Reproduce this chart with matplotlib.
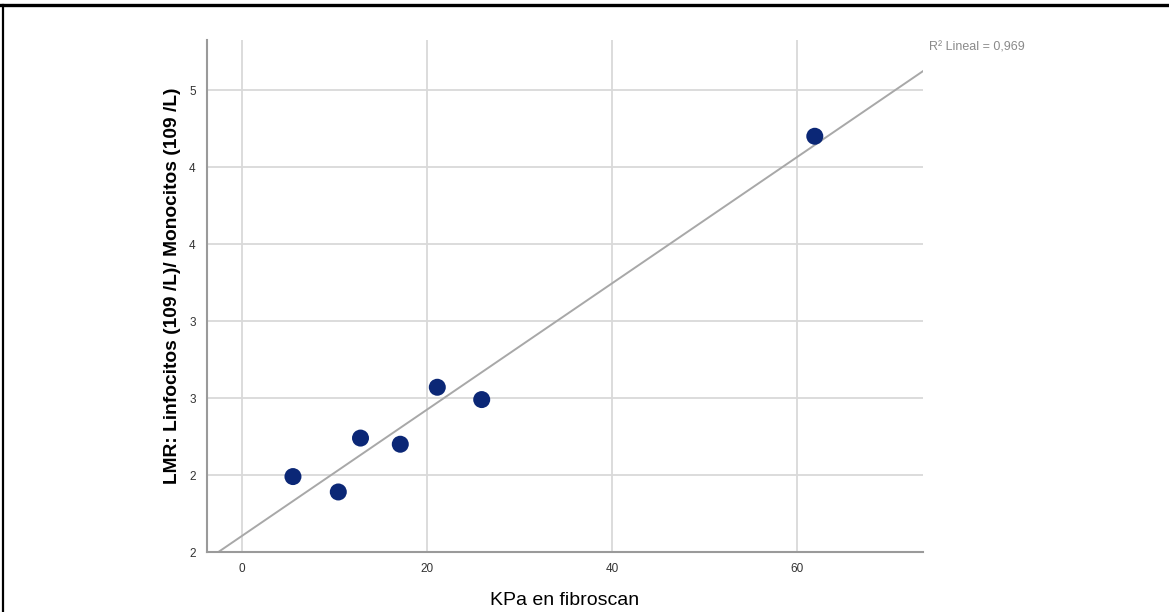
import numpy as np
import matplotlib.pyplot as plt
from matplotlib.lines import Line2D

# KPa (fibroscan) vs LMR
kpa = [5.5, 10.4, 12.8, 17.1, 21.1, 25.9, 61.9]
lmr = [2.49, 2.39, 2.74, 2.70, 3.07, 2.99, 4.70]

y_ticks = [2.0, 2.5, 3.0, 3.5, 4.0, 4.5, 5.0]
y_tick_labels = ['2', '2', '3', '3', '4', '4', '5']
x_ticks = [0, 20, 40, 60]
r2_text = 'R\u00b2 Lineal = 0,969'

plt.rcParams['font.family'] = ['Liberation Sans', 'DejaVu Sans']

fig = plt.figure(figsize=(11.69, 6.12), dpi=100)
ax = fig.add_axes([0.177, 0.098, 0.6126, 0.8366])

# linear fit
slope, inter = np.polyfit(kpa, lmr, 1)
xx = np.array([-10, 90])
ax.plot(xx, inter + slope * xx, color='#a8a8a8', linewidth=1.4, zorder=2)

ax.scatter(kpa, lmr, s=150, color='#0b2776', edgecolors='none', zorder=3)

ax.set_xlim(-3.8, 73.6)
ax.set_ylim(2.0, 5.325)
ax.set_xticks(x_ticks)
ax.set_yticks(y_ticks)
ax.set_yticklabels(y_tick_labels)
ax.tick_params(length=0, labelsize=8.5, colors='#333333', pad=8)
ax.grid(True, color='#d9d9d9', linewidth=1.3)
ax.set_axisbelow(True)
for s in ['top', 'right']:
    ax.spines[s].set_visible(False)
for s in ['left', 'bottom']:
    ax.spines[s].set_color('#9a9a9a')
    ax.spines[s].set_linewidth(1.5)

ax.set_xlabel('KPa en fibroscan', fontsize=14, labelpad=12)
ax.set_ylabel('LMR: Linfocitos (109 /L)/ Monocitos (109 /L)', fontsize=13.8,
              fontweight='bold')
ax.yaxis.set_label_coords(-0.036, 0.521)

fig.text(929 / 1169, 1 - 48 / 612, r2_text, fontsize=9, color='#8a8a8a',
         ha='left', va='center')

# frame lines
fig.add_artist(Line2D([0, 1], [1 - 5 / 612, 1 - 5 / 612], color='black',
                      linewidth=2.4, transform=fig.transFigure))
fig.add_artist(Line2D([3 / 1169, 3 / 1169], [0, 1 - 5 / 612], color='black',
                      linewidth=1.6, transform=fig.transFigure))

fig.savefig('out.png', dpi=100)
